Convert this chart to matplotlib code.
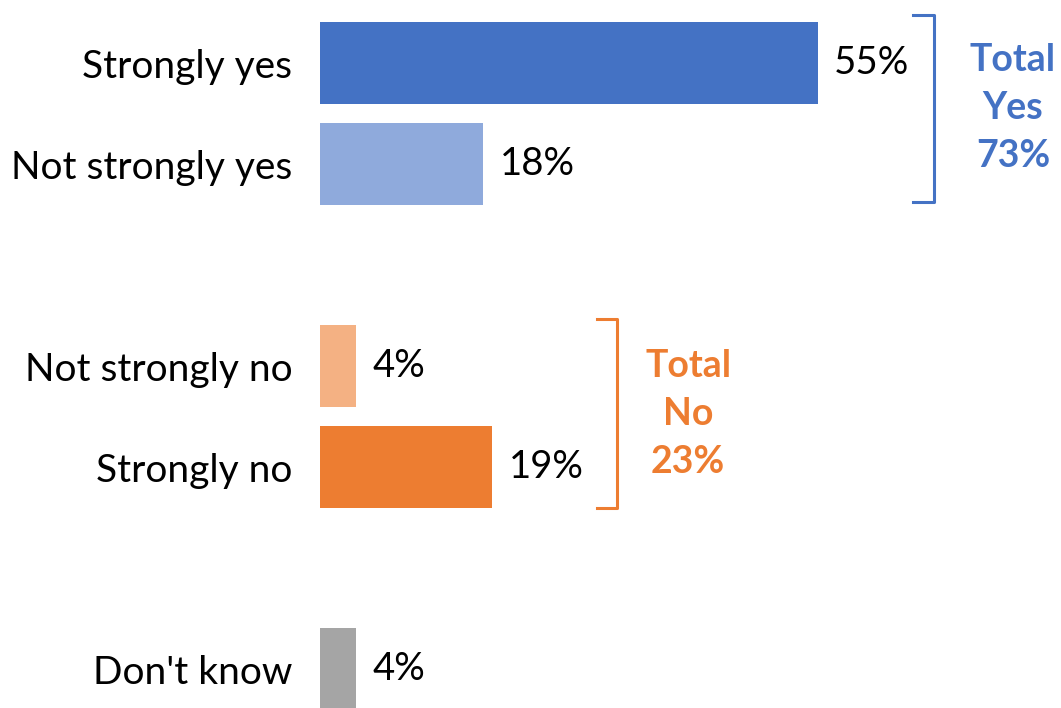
import matplotlib.pyplot as plt

# Data
categories = ["Strongly yes", "Not strongly yes", "Not strongly no", "Strongly no", "Don't know"]
values = [55, 18, 4, 19, 4]
rows = [0, 1, 3, 4, 6]
colors = ["#4472C4", "#8FAADC", "#F4B183", "#ED7D31", "#A5A5A5"]
total_yes = 73
total_no = 23

plt.rcParams['font.family'] = ['Lato', 'DejaVu Sans']

fig = plt.figure(figsize=(10.61, 7.08), dpi=100)
ax = fig.add_axes([320 / 1061, 0, 741 / 1061, 1])

ax.barh(rows, values, height=0.81, color=colors)

# value labels
for r, v in zip(rows, values):
    ax.annotate(f"{v}%", (v, r), xytext=(12, 0), textcoords="offset points",
                va="center", ha="left", fontsize=27.5)

ax.set_xlim(0, 81.9)
ax.set_ylim(6.386, -0.624)
ax.set_yticks(rows)
ax.set_yticklabels(categories, fontsize=28)
ax.tick_params(axis="y", length=0, pad=20)
ax.set_xticks([])
for s in ax.spines.values():
    s.set_visible(False)

# brackets
def bracket(x0, x1, y0, y1, color):
    ax.plot([x0, x1, x1, x0], [y0, y0, y1, y1], color=color, lw=2.2,
            solid_joinstyle="round", clip_on=False)

bracket(65.5, 67.9, -0.475, 1.376, "#4472C4")
bracket(30.6, 32.8, 2.535, 4.406, "#ED7D31")

ax.text(76.6, 0.45, f"Total\nYes\n{total_yes}%", ha="center", va="center",
        fontsize=27, fontweight="bold", color="#4472C4", linespacing=1.5)
ax.text(40.7, 3.48, f"Total\nNo\n{total_no}%", ha="center", va="center",
        fontsize=27, fontweight="bold", color="#ED7D31", linespacing=1.5)

fig.savefig("out.png", dpi=100)
